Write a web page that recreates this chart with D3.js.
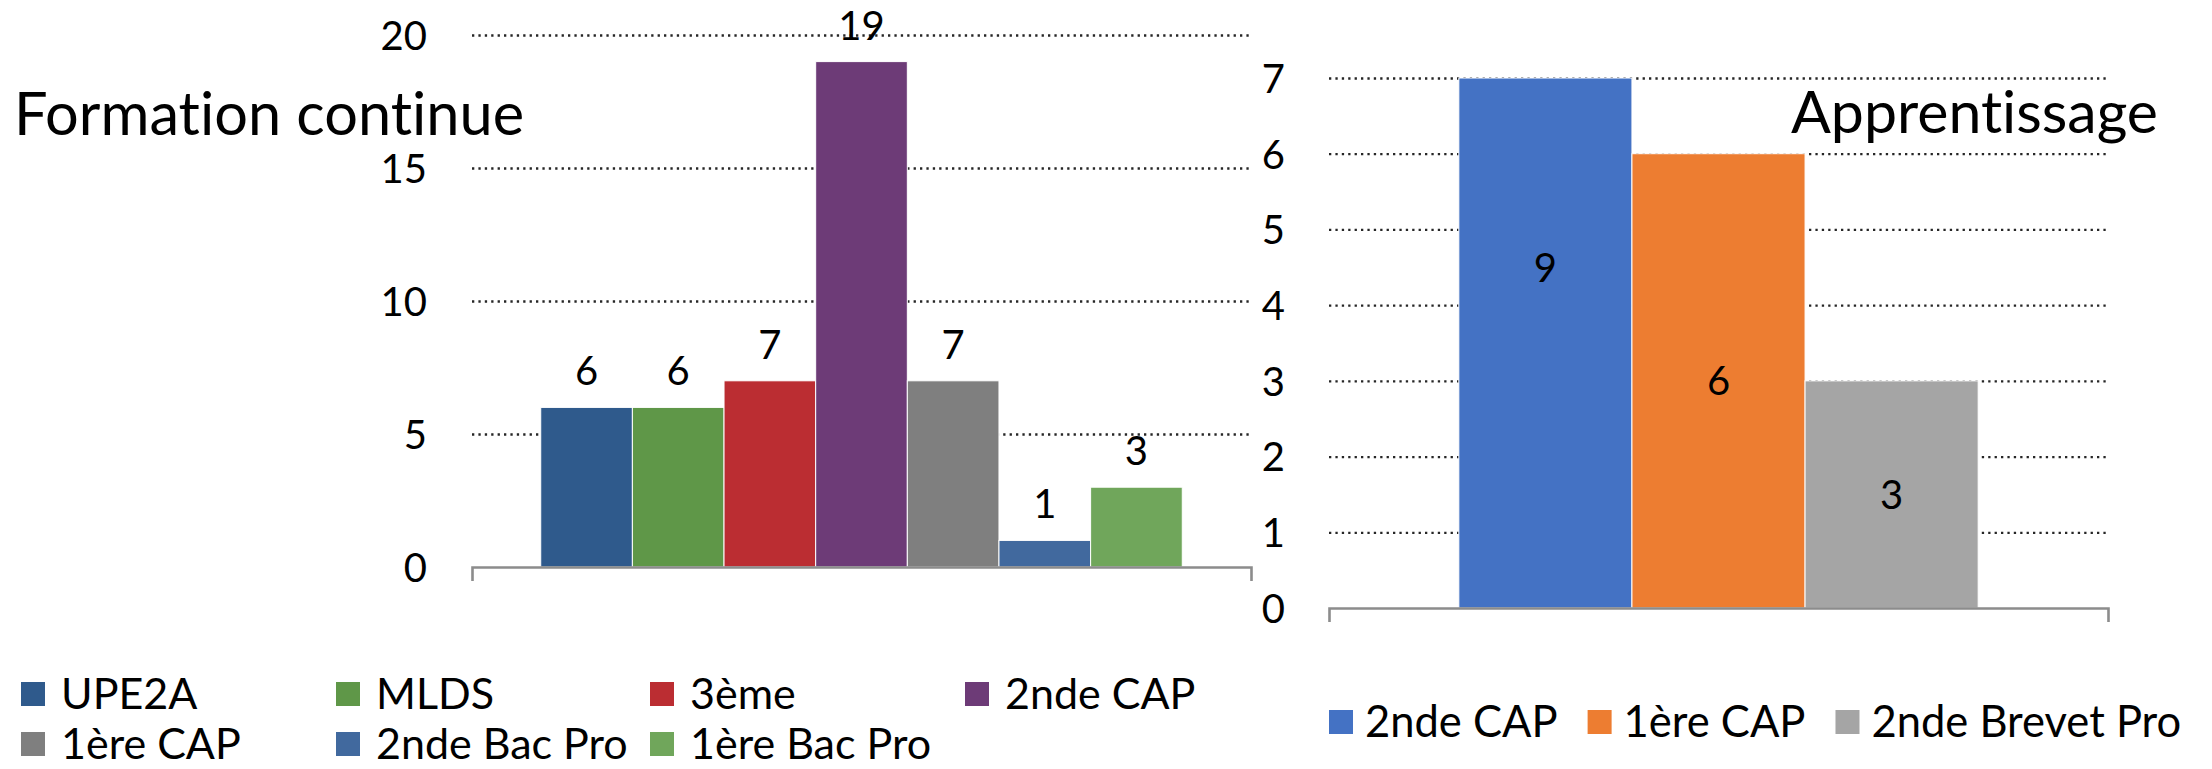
<!DOCTYPE html>
<html>
<head>
<meta charset="utf-8">
<script src="https://cdn.jsdelivr.net/npm/d3@7"></script>
<style>
  html, body { margin: 0; padding: 0; background: #ffffff; }
  svg { display: block; font-family: Lato, "Open Sans", sans-serif; }
  svg text { font-variant-ligatures: none; font-feature-settings: "liga" 0, "clig" 0; }
</style>
</head>
<body>
<svg id="chart" width="2212" height="769"></svg>
<script>
// ---------- data ----------
const leftTitle = "Formation continue";
const leftSeries = ["UPE2A", "MLDS", "3ème", "2nde CAP", "1ère CAP", "2nde Bac Pro", "1ère Bac Pro"];
const leftValues = [6, 6, 7, 19, 7, 1, 3];
const leftColors = ["#2F5A8C", "#5F9748", "#BB2D32", "#6D3B77", "#7F7F7F", "#41699E", "#70A65B"];
const leftTicks = [0, 5, 10, 15, 20];

const rightTitle = "Apprentissage";
const rightSeries = ["2nde CAP", "1ère CAP", "2nde Brevet Pro"];
const rightValues = [9, 6, 3];
const rightColors = ["#4472C4", "#ED7D31", "#A5A5A5"];
const rightTicks = [0, 1, 2, 3, 4, 5, 6, 7];

// ---------- setup ----------
const svg = d3.select("#chart");
svg.append("rect").attr("width", 2212).attr("height", 769).attr("fill", "#fff");

const gridStyle = g => g.selectAll("line")
  .attr("stroke", "#262626").attr("stroke-width", 2.3).attr("stroke-dasharray", "2.3,4.1");

function drawPanel(opt) {
  const { x0, x1, yTop, yBase, max, ticks, series, values, colors, labelX, labelMode } = opt;
  const y = d3.scaleLinear().domain([0, max]).range([yBase, yTop]);
  const x = d3.scaleBand().domain(series).range([x0, x1]).paddingInner(0).paddingOuter(0.75);
  const g = svg.append("g");

  // dotted gridlines (excluding 0)
  g.append("g").attr("transform", `translate(${x0},0)`)
    .call(d3.axisLeft(y).tickValues(ticks.filter(t => t > 0)).tickSize(-(x1 - x0)).tickFormat(""))
    .call(a => a.select(".domain").remove())
    .call(gridStyle);

  // tick labels
  g.append("g").attr("transform", `translate(${labelX},0)`)
    .call(d3.axisLeft(y).tickValues(ticks).tickSize(0).tickPadding(0).tickFormat(d3.format("d")))
    .call(a => a.select(".domain").remove())
    .call(a => a.selectAll("text")
      .attr("font-family", "Lato, sans-serif").attr("font-size", 40).attr("fill", "#000").attr("dy", "0.36em"));

  // bars
  const data = series.map((s, i) => ({ s, v: values[i], c: colors[i] }));
  g.append("g").selectAll("rect").data(data).join("rect")
    .attr("x", d => x(d.s))
    .attr("width", x.bandwidth())
    .attr("y", d => y(Math.min(d.v, max)))
    .attr("height", d => y(0) - y(Math.min(d.v, max)))
    .attr("fill", d => d.c)
    .attr("stroke", "#fff").attr("stroke-width", 1);

  // category axis line with end ticks
  g.append("g").attr("transform", `translate(0,${yBase})`)
    .call(d3.axisBottom(d3.scaleLinear().domain([0, 1]).range([x0, x1])).tickValues([]).tickSizeOuter(14))
    .call(a => a.select(".domain").attr("stroke", "#8C8C8C").attr("stroke-width", 2.6).attr("fill", "none"));

  // data labels
  g.append("g").selectAll("text").data(data).join("text")
    .attr("x", d => x(d.s) + x.bandwidth() / 2)
    .attr("y", d => labelMode === "above" ? y(d.v) - 22 : (y(d.v) + y(0)) / 2)
    .attr("dy", labelMode === "above" ? 0 : "0.36em")
    .attr("text-anchor", "middle")
    .attr("font-size", 40).attr("fill", "#000")
    .text(d => d.v);
  return g;
}

drawPanel({ x0: 472, x1: 1251, yTop: 35, yBase: 567, max: 20, ticks: leftTicks,
  series: leftSeries, values: leftValues, colors: leftColors, labelX: 427, labelMode: "above" });
drawPanel({ x0: 1329, x1: 2108, yTop: 78, yBase: 608, max: 7, ticks: rightTicks,
  series: rightSeries, values: rightValues, colors: rightColors, labelX: 1285, labelMode: "inside" });

// titles
svg.append("text").attr("x", 14).attr("y", 135).attr("font-size", 59.5).attr("fill", "#000").text(leftTitle);
svg.append("text").attr("x", 2158).attr("y", 133).attr("text-anchor", "end").attr("font-size", 59).attr("fill", "#000").text(rightTitle);

// left legend (grid 4 columns)
const legL = svg.append("g");
const colX = [21, 336, 650, 965];
const rowY = [709, 759];
leftSeries.forEach((s, i) => {
  const cx = colX[i % 4], by = rowY[Math.floor(i / 4)];
  legL.append("rect").attr("x", cx).attr("y", by - 27).attr("width", 24).attr("height", 24).attr("fill", leftColors[i]);
  legL.append("text").attr("x", cx + 40).attr("y", by).attr("font-size", 43).attr("fill", "#000").text(s);
});

// right legend (single row, flowing)
const legR = svg.append("g");
let lx = 1329;
rightSeries.forEach((s, i) => {
  legR.append("rect").attr("x", lx).attr("y", 710).attr("width", 24).attr("height", 24).attr("fill", rightColors[i]);
  const t = legR.append("text").attr("x", lx + 36).attr("y", 737).attr("font-size", 43.5).attr("fill", "#000").text(s);
  lx = lx + 36 + t.node().getComputedTextLength() + 30;
});
</script>
</body>
</html>
